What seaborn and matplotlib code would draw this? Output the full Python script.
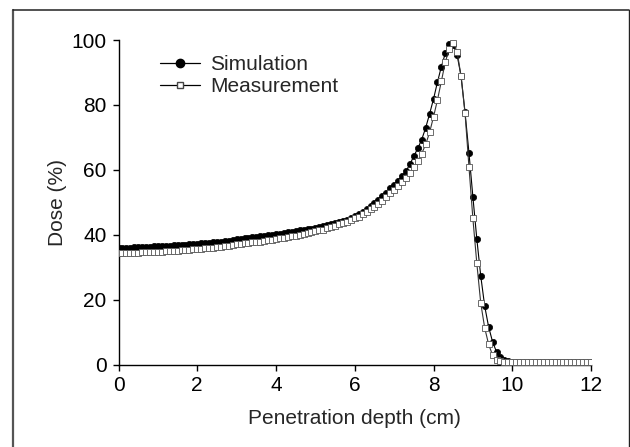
import numpy as np
import pandas as pd
import matplotlib
matplotlib.use("Agg")
import matplotlib.pyplot as plt
from matplotlib.lines import Line2D
import seaborn as sns

# ---- data ----
depth = np.round(np.arange(0, 12.05, 0.1), 1)

simulation = [
    35.9, 35.9, 36.0, 36.0, 36.1, 36.1, 36.2, 36.2, 36.3, 36.4,
    36.5, 36.5, 36.6, 36.6, 36.7, 36.8, 36.8, 36.9, 37.0, 37.1,
    37.2, 37.3, 37.4, 37.5, 37.6, 37.7, 37.9, 38.0, 38.2, 38.4,
    38.6, 38.7, 38.9, 39.0, 39.2, 39.3, 39.5, 39.7, 39.9, 40.0,
    40.2, 40.3, 40.5, 40.7, 40.9, 41.1, 41.3, 41.5, 41.7, 41.9,
    42.2, 42.4, 42.7, 43.0, 43.3, 43.6, 43.9, 44.2, 44.6, 45.0,
    45.7, 46.4, 47.1, 47.9, 48.8, 49.7, 50.7, 51.8, 53.0, 54.3,
    55.4, 56.7, 58.0, 59.6, 61.7, 64.2, 66.6, 69.3, 72.9, 77.2,
    81.8, 87.0, 91.8, 95.9, 98.8, 98.6, 95.3, 88.9, 77.8, 65.3,
    51.7, 38.7, 27.3, 18.0, 11.6, 7.0, 3.9, 2.2, 1.4, 1.0,
    0.8, 0.8, 0.8, 0.8, 0.8, 0.8, 0.8, 0.8, 0.8, 0.8,
    0.8, 0.8, 0.8, 0.8, 0.8, 0.8, 0.8, 0.8, 0.8, 0.8, 0.8,
]

measurement = [
    34.3, 34.3, 34.4, 34.4, 34.5, 34.5, 34.6, 34.6, 34.7, 34.7,
    34.8, 34.8, 34.9, 35.0, 35.0, 35.1, 35.2, 35.3, 35.4, 35.5,
    35.6, 35.7, 35.8, 35.9, 36.0, 36.2, 36.3, 36.5, 36.6, 36.8,
    37.0, 37.1, 37.3, 37.4, 37.6, 37.7, 37.9, 38.1, 38.3, 38.5,
    38.7, 38.9, 39.1, 39.3, 39.5, 39.7, 39.9, 40.1, 40.4, 40.7,
    41.0, 41.3, 41.6, 42.0, 42.4, 42.8, 43.2, 43.6, 44.0, 44.5,
    45.0, 45.6, 46.3, 47.0, 47.8, 48.6, 49.5, 50.5, 51.6, 52.8,
    53.8, 55.0, 56.2, 57.5, 59.0, 60.8, 62.8, 65.0, 67.8, 71.5,
    76.3, 81.5, 87.3, 93.2, 97.3, 99.2, 96.4, 88.8, 77.6, 61.0,
    45.0, 31.2, 18.9, 11.3, 6.2, 2.9, 1.4, 1.0, 0.8, 0.8,
    0.8, 0.8, 0.8, 0.8, 0.8, 0.8, 0.8, 0.8, 0.8, 0.8,
    0.8, 0.8, 0.8, 0.8, 0.8, 0.8, 0.8, 0.8, 0.8, 0.8, 0.8,
]

series_names = ["Simulation", "Measurement"]
x_ticks = [0, 2, 4, 6, 8, 10, 12]
y_ticks = [0, 20, 40, 60, 80, 100]

df = pd.DataFrame({"depth": depth, "Simulation": simulation, "Measurement": measurement})

# ---- style ----
sns.set_style("ticks")
plt.rcParams["font.family"] = ["Liberation Sans", "DejaVu Sans"]

fig = plt.figure(figsize=(6.30, 4.47), dpi=100)
ax = fig.add_axes([118.5 / 630, 1 - 364.5 / 447, (591 - 118.5) / 630, (364.5 - 40) / 447])

sns.lineplot(data=df, x="depth", y="Simulation", ax=ax, color="black", lw=0.8,
             marker="o", markersize=4.5, markerfacecolor="black",
             markeredgecolor="black", markeredgewidth=0.5, zorder=2)
sns.lineplot(data=df, x="depth", y="Measurement", ax=ax, color="#333333", lw=0.8,
             marker="s", markersize=3.8, markerfacecolor="white",
             markeredgecolor="#555555", markeredgewidth=0.6, zorder=3)

ax.set_xlim(0, 12)
ax.set_ylim(0, 100)
ax.set_xticks(x_ticks)
ax.set_yticks(y_ticks)
ax.tick_params(axis="both", labelsize=15, length=4.5, width=1.0, color="black",
               labelcolor="black", pad=4)
for s in ["top", "right"]:
    ax.spines[s].set_visible(False)
for s in ["left", "bottom"]:
    ax.spines[s].set_linewidth(1.0)
    ax.spines[s].set_color("black")

ax.set_xlabel("Penetration depth (cm)", fontsize=15, labelpad=10)
ax.set_ylabel("Dose (%)", fontsize=15, labelpad=3)

handles = [
    Line2D([], [], color="black", lw=0.9, marker="o", markersize=6,
           markerfacecolor="black", markeredgecolor="black"),
    Line2D([], [], color="black", lw=0.9, marker="s", markersize=5,
           markerfacecolor="white", markeredgecolor="#444444"),
]
ax.legend(handles, series_names, loc="upper left", frameon=False, fontsize=15,
          handlelength=1.9, handletextpad=0.5, labelspacing=0.12, borderpad=0,
          bbox_to_anchor=(150 / 630, 1 - 45 / 447), bbox_transform=fig.transFigure)

# outer frame
fig.add_artist(Line2D([13 / 630, 13 / 630], [0, 1 - 9.5 / 447], transform=fig.transFigure,
                      color="#555555", lw=1.6))
fig.add_artist(Line2D([13 / 630, 628.5 / 630], [1 - 9.5 / 447, 1 - 9.5 / 447],
                      transform=fig.transFigure, color="#222222", lw=1.1))
fig.add_artist(Line2D([628.5 / 630, 628.5 / 630], [0, 1 - 9.5 / 447],
                      transform=fig.transFigure, color="#222222", lw=1.0))

fig.savefig("out.png", dpi=100)
